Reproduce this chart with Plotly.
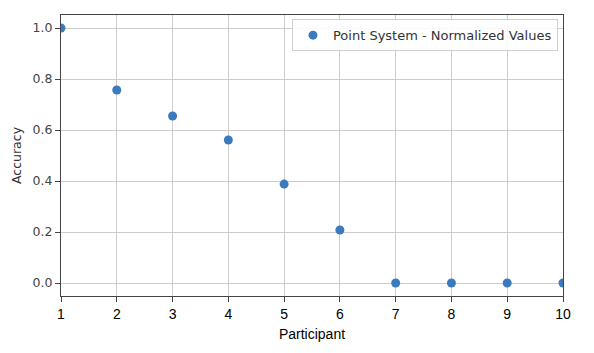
import plotly.graph_objects as go

participants = [1, 2, 3, 4, 5, 6, 7, 8, 9, 10]
accuracy = [1.0, 0.757, 0.655, 0.561, 0.388, 0.208, 0.0, 0.0, 0.0, 0.0]
y_ticks = [0.0, 0.2, 0.4, 0.6, 0.8, 1.0]
y_tick_labels = ["0.0", "0.2", "0.4", "0.6", "0.8", "1.0"]

fig = go.Figure()
fig.add_trace(go.Scatter(
    x=participants, y=accuracy, mode="markers",
    name="Point System - Normalized Values",
    marker=dict(color="#3b7bbd", size=9),
))

fig.update_layout(
    width=594, height=353,
    margin=dict(l=61, r=31, t=15, b=57),
    paper_bgcolor="white", plot_bgcolor="white",
    showlegend=True,
    legend=dict(
        x=0.99, y=0.985, xanchor="right", yanchor="top",
        bgcolor="rgba(255,255,255,0.9)", bordercolor="#d0d0d0", borderwidth=1,
        font=dict(family="DejaVu Sans", size=13, color="#333333"),
    ),
)
fig.update_xaxes(
    range=[1, 10], tickmode="array", tickvals=participants,
    showgrid=True, gridcolor="#cccccc", gridwidth=1,
    showline=True, linecolor="#444444", linewidth=1, mirror=True,
    ticks="outside", ticklen=5, tickcolor="#444444",
    tickfont=dict(family="Liberation Sans", size=14, color="black"),
    title=dict(text="Participant", font=dict(family="Liberation Sans", size=14, color="black"), standoff=8),
    zeroline=False,
)
fig.update_yaxes(
    range=[-0.051, 1.051], tickmode="array", tickvals=y_ticks, ticktext=y_tick_labels,
    showgrid=True, gridcolor="#cccccc", gridwidth=1,
    showline=True, linecolor="#444444", linewidth=1, mirror=True,
    ticks="outside", ticklen=5, tickcolor="#444444",
    tickfont=dict(family="DejaVu Sans", size=12.5, color="#444444"),
    title=dict(text="Accuracy", font=dict(family="DejaVu Sans", size=12.5, color="#333333"), standoff=8),
    zeroline=False,
)

fig.write_html("out.html")
